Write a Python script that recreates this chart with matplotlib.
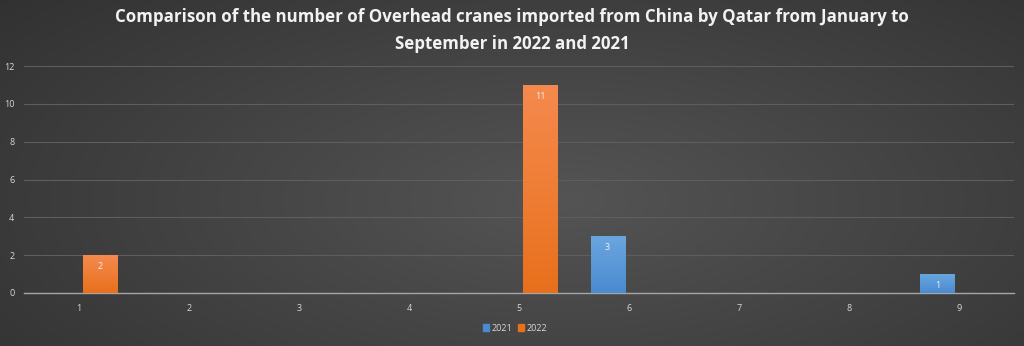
import numpy as np
import matplotlib
matplotlib.use('Agg')
import matplotlib.pyplot as plt
import matplotlib.patches as mpatches
from matplotlib.colors import LinearSegmentedColormap

##===========================================
# Data
##===========================================
months = ['1', '2', '3', '4', '5', '6', '7', '8', '9']
vals_2021 = [0, 0, 0, 0, 0, 3, 0, 0, 1]
vals_2022 = [2, 0, 0, 0, 11, 0, 0, 0, 0]
series_names = ['2021', '2022']

title = ('Comparison of the number of Overhead cranes imported from China by Qatar from January to\n'
         'September in 2022 and 2021')

blue_top, blue_bot = '#6aa6de', '#4a8bd0'
orange_top, orange_bot = '#f58a4e', '#e8701c'
txt_c = '#d9d9d9'

plt.rcParams['font.family'] = ['Open Sans', 'DejaVu Sans']

fig = plt.figure(figsize=(10.24, 3.46), dpi=100)

# background radial gradient
bg = fig.add_axes([0, 0, 1, 1], zorder=-10)
yy, xx = np.mgrid[0:346, 0:1024]
r = np.sqrt(((xx - 560) / 700.0) ** 2 + ((yy - 200) / 300.0) ** 2)
shade = np.clip(0.33 - 0.13 * r, 0.17, 0.33)
bg.imshow(np.dstack([shade] * 3), aspect='auto', extent=[0, 1, 0, 1])
bg.axis('off')

ax = fig.add_axes([24 / 1024, 1 - 293 / 346, (1014 - 24) / 1024, (293 - 66) / 346])
ax.patch.set_alpha(0)

x = np.arange(len(months))
w = 0.31
off = 0.195


def grad_bar(xc, h, ctop, cbot):
    if h <= 0:
        return
    rect = mpatches.Rectangle((xc - w / 2, 0), w, h, facecolor='none', edgecolor='none')
    ax.add_patch(rect)
    cmap = LinearSegmentedColormap.from_list('g', [cbot, ctop])
    im = ax.imshow(np.linspace(0, 1, 100).reshape(-1, 1), cmap=cmap, origin='lower',
                   extent=[xc - w / 2, xc + w / 2, 0, h], aspect='auto', zorder=3)
    im.set_clip_path(rect)
    ax.text(xc, h - 0.6, str(h), ha='center', va='center', fontsize=6.5, color='#f2f2f2', zorder=4)


for i in range(len(months)):
    grad_bar(x[i] - off, vals_2021[i], blue_top, blue_bot)
    grad_bar(x[i] + off, vals_2022[i], orange_top, orange_bot)

ax.set_xlim(-0.5, len(months) - 0.5)
ax.set_ylim(0, 12)
ax.set_yticks(np.arange(0, 13, 2))
ax.set_xticks(x)
ax.set_xticklabels(months)
ax.tick_params(colors=txt_c, labelsize=6.5, length=0)
ax.tick_params(axis='x', pad=8)
ax.tick_params(axis='y', pad=7)
ax.grid(axis='y', color='#5e5e5e', linewidth=0.8)
ax.set_axisbelow(True)
for s in ['top', 'right', 'left']:
    ax.spines[s].set_visible(False)
ax.spines['bottom'].set_color('#a6a6a6')
ax.spines['bottom'].set_linewidth(1.0)

fig.text(0.5, 0.912, title, ha='center', va='center', fontsize=12.2, fontweight='bold',
         color='#f2f2f2', linespacing=1.6)

handles = [mpatches.Patch(color=blue_bot, label=series_names[0]),
           mpatches.Patch(color=orange_bot, label=series_names[1])]
fig.legend(handles=handles, loc='center', bbox_to_anchor=(0.503, 0.052), ncol=2, frameon=False,
           fontsize=6.5, labelcolor=txt_c, handlelength=0.7, handleheight=0.7,
           handletextpad=0.3, columnspacing=0.6)

plt.savefig('out.png', dpi=100)
